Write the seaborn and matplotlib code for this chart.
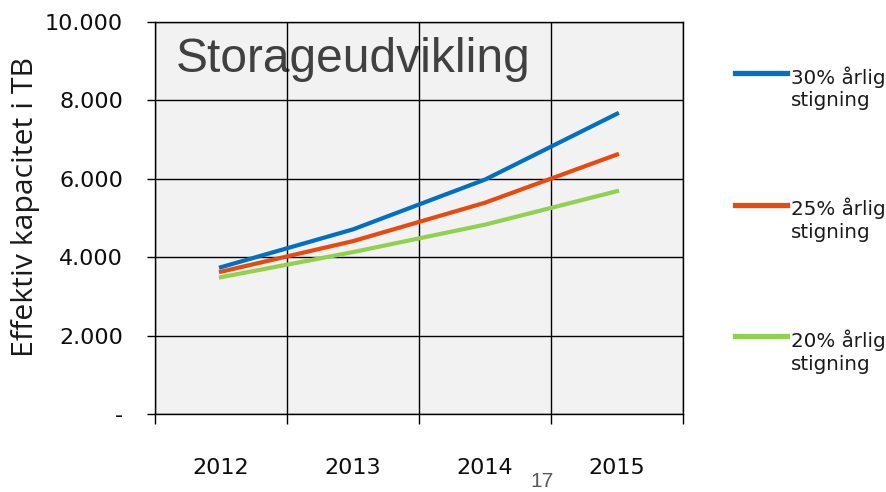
import matplotlib
matplotlib.use("Agg")
import matplotlib.pyplot as plt
import matplotlib.ticker as mticker
import seaborn as sns
import pandas as pd

years = ["2012", "2013", "2014", "2015"]
growth_30 = [3745, 4710, 5980, 7660]
growth_25 = [3630, 4410, 5390, 6620]
growth_20 = [3490, 4130, 4830, 5685]
series_labels = ["30% årlig\nstigning", "25% årlig\nstigning", "20% årlig\nstigning"]
colors = ["#0070C0", "#E8490F", "#92D050"]
y_ticks = [0, 2000, 4000, 6000, 8000, 10000]

df = pd.DataFrame({
    "year": years * 3,
    "value": growth_30 + growth_25 + growth_20,
    "series": [series_labels[0]] * 4 + [series_labels[1]] * 4 + [series_labels[2]] * 4,
})
df["pos"] = df["year"].map({y: i for i, y in enumerate(years)})

fig = plt.figure(figsize=(8.87, 4.92), dpi=100)
ax = fig.add_axes([155 / 887, 1 - 414 / 492, (683 - 155) / 887, (414 - 22) / 492])
ax.set_facecolor("#F2F2F2")

sns.lineplot(data=df, x="pos", y="value", hue="series", palette=colors,
             hue_order=series_labels, linewidth=3, ax=ax, legend=False)

ax.set_xlim(-0.5, len(years) - 0.5)
ax.set_ylim(0, 10000)
ax.set_yticks(y_ticks)
ax.yaxis.set_major_formatter(mticker.FuncFormatter(
    lambda v, p: "-" if v == 0 else f"{int(v):,}".replace(",", ".")))
ax.set_xticks([i - 0.5 for i in range(len(years) + 1)])
ax.set_xticklabels([])
ax.set_xticks(range(len(years)), minor=True)
ax.set_xticklabels(years, minor=True)
ax.tick_params(axis="x", which="major", direction="out", length=7, width=1, color="black")
ax.tick_params(axis="x", which="minor", length=0, pad=32, labelsize=16, labelcolor="#0d0d0d")
ax.tick_params(axis="y", direction="out", length=6, width=1, pad=17, labelsize=16, labelcolor="#0d0d0d")
ax.set_axisbelow(True)
ax.grid(True, which="major", color="black", linewidth=1)
for s in ax.spines.values():
    s.set_color("black")
    s.set_linewidth(1)
ax.set_xlabel("")
ax.set_ylabel("Effektiv kapacitet i TB", fontsize=21.8, family="Open Sans",
              color="#1a1a1a")
ax.yaxis.set_label_coords(-0.218, 0.528)

ax.text(0.04, 0.905, "Storageudvikling", transform=ax.transAxes, fontsize=34.5,
        family="Liberation Sans", color="#404040", va="center", ha="left", zorder=0.3)

handles = [plt.Line2D([], [], color=c, linewidth=3.8) for c in colors]
leg = fig.legend(handles, series_labels, loc="upper left",
                 bbox_to_anchor=(735 / 887, 1 - 66 / 492), bbox_transform=fig.transFigure,
                 frameon=False, fontsize=14.3, handlelength=2.6, handletextpad=0.2,
                 labelspacing=4.4, borderpad=0, borderaxespad=0)
for t in leg.get_texts():
    t.set_color("#1a1a1a")
    t.set_linespacing(1.25)
for col in leg._legend_handle_box.get_children():
    for row in col.get_children():
        row.align = "top"

fig.text(542 / 887, 1 - 491 / 492, "17", ha="center", va="bottom", fontsize=15,
         family="Liberation Sans", color="#595959")

fig.savefig("out.png", dpi=100)
